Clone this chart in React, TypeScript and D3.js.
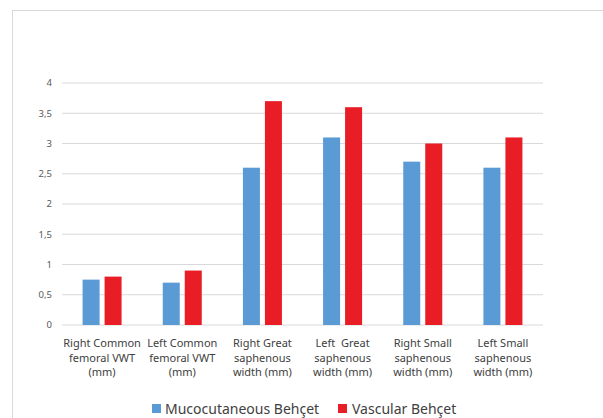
import React from "react";
import * as d3 from "d3";

const categories: string[][] = [
  ["Right Common", "femoral VWT", "(mm)"],
  ["Left Common", "femoral VWT", "(mm)"],
  ["Right Great", "saphenous", "width (mm)"],
  ["Left  Great", "saphenous", "width (mm)"],
  ["Right Small", "saphenous", "width (mm)"],
  ["Left Small", "saphenous", "width (mm)"],
];
const seriesNames = ["Mucocutaneous Behçet", "Vascular Behçet"];
const mucocutaneous = [0.75, 0.7, 2.6, 3.1, 2.7, 2.6];
const vascular = [0.8, 0.9, 3.7, 3.6, 3.0, 3.1];
const yTicks = [0, 0.5, 1, 1.5, 2, 2.5, 3, 3.5, 4];
const colors = ["#5B9BD5", "#E81D25"];

export default function App() {
  const W = 603, H = 418;
  const left = 62, right = 543, top = 83, bottom = 325;
  const x = d3.scaleBand<number>().domain(d3.range(categories.length)).range([left, right]).paddingInner(0).paddingOuter(0);
  const y = d3.scaleLinear().domain([0, 4]).range([bottom, top]);
  const barW = 17, gap = 5;
  const series = [mucocutaneous, vascular];
  const fmt = (v: number) => String(v).replace(".", ",");
  const font = "'Noto Sans', sans-serif";
  const textColor = "#595959";
  return (
    <svg width={W} height={H} style={{ position: "absolute", left: 0, top: 0, background: "#fff" }}>
      <rect x={12.5} y={10.5} width={W} height={H} fill="#fff" stroke="#d9d9d9" strokeWidth={1} />
      {yTicks.map((t) => (
        <g key={t}>
          <line x1={left} x2={right} y1={y(t)} y2={y(t)} stroke="#d9d9d9" strokeWidth={1} />
          <text x={52} y={y(t)} dy="0.35em" textAnchor="end" fontSize={9.5} fill={textColor} fontFamily={font}>
            {fmt(t)}
          </text>
        </g>
      ))}
      {categories.map((_, i) => {
        const cx = x(i)! + x.bandwidth() / 2;
        return series.map((s, k) => {
          const bx = k === 0 ? cx - gap / 2 - barW : cx + gap / 2;
          return (
            <rect key={`${i}-${k}`} x={bx} y={y(s[i])} width={barW} height={y(0) - y(s[i])} fill={colors[k]} />
          );
        });
      })}
      {categories.map((lines, i) => {
        const cx = x(i)! + x.bandwidth() / 2;
        return (
          <text key={i} textAnchor="middle" fontSize={11} fill="#404040" fontFamily={font}>
            {lines.map((l, j) => (
              <tspan key={j} x={cx} y={347 + j * 14.5} style={{ whiteSpace: "pre" }}>
                {l}
              </tspan>
            ))}
          </text>
        );
      })}
      <g>
        <rect x={152} y={404} width={9} height={9} fill={colors[0]} />
        <text x={165} y={409} dy="0.35em" fontSize={14} fill="#404040" fontFamily={font}>{seriesNames[0]}</text>
        <rect x={338} y={404} width={9} height={9} fill={colors[1]} />
        <text x={352} y={409} dy="0.35em" fontSize={14} fill="#404040" fontFamily={font}>{seriesNames[1]}</text>
      </g>
    </svg>
  );
}
